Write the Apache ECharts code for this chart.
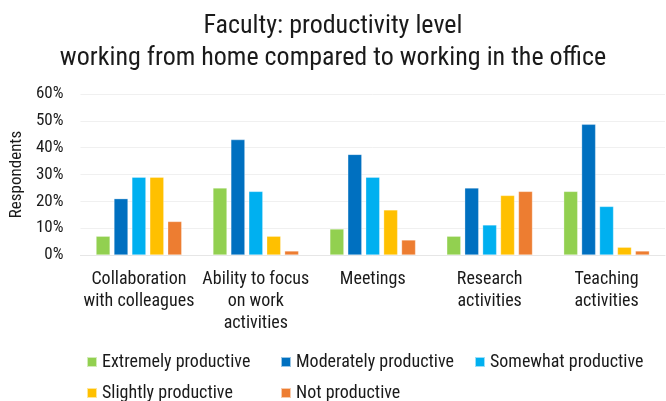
<!DOCTYPE html>
<html>
<head>
<meta charset="utf-8">
<script src="https://cdn.jsdelivr.net/npm/echarts@6/dist/echarts.min.js"></script>
<style>
  html, body { margin: 0; padding: 0; background: #fff; }
  #chart { width: 666px; height: 401px; }
</style>
</head>
<body>
<div id="chart"></div>
<script>
// categories along the x axis
var categories = [
  'Collaboration\nwith colleagues',
  'Ability to focus\non work\nactivities',
  'Meetings',
  'Research\nactivities',
  'Teaching\nactivities'
]

// share of respondents (%) per level
var extremely = [7, 25, 9.7, 7, 23.7]
var moderately = [21, 43, 37.5, 25, 48.7]
var somewhat = [29, 23.7, 29, 11.2, 18.1]
var slightly = [29, 7, 16.8, 22.2, 2.9]
var notProductive = [12.5, 1.5, 5.6, 23.7, 1.5]

var seriesNames = ['Extremely productive', 'Moderately productive', 'Somewhat productive', 'Slightly productive', 'Not productive']
var colors = ['#92D050', '#0070C0', '#00B0F0', '#FFC000', '#ED7D31']

var font = "'Roboto Condensed', 'Roboto', sans-serif"
var textColor = '#1a1a1a'

var chart = echarts.init(document.getElementById('chart'))

function bar(name, data, color) {
  return {
    name: name,
    type: 'bar',
    data: data,
    barWidth: 14,
    barGap: '28%',
    itemStyle: {
      color: color,
      borderColor: 'rgba(255,255,255,0.6)',
      borderWidth: 0.5
    }
  }
}

// legend laid out as a 3-column grid, one legend box per entry
var legendCols = [86, 280, 474]
var legendRows = [353, 384]
var legends = seriesNames.map(function(name, i) {
  return {
    data: [name],
    left: legendCols[i % 3],
    top: legendRows[Math.floor(i / 3)],
    padding: 0,
    itemWidth: 10,
    itemHeight: 10,
    icon: 'rect',
    textStyle: {
      fontFamily: font,
      fontSize: 18,
      color: textColor
    }
  }
})

chart.setOption({
  animation: false,
  title: {
    text: 'Faculty: productivity level\nworking from home compared to working in the office',
    left: 'center',
    top: 5,
    textStyle: {
      fontFamily: font,
      fontSize: 26,
      fontWeight: 'normal',
      color: textColor,
      lineHeight: 32
    }
  },
  grid: {
    left: 80,
    right: 1,
    top: 94,
    bottom: 146
  },
  legend: legends,
  xAxis: {
    type: 'category',
    data: categories,
    axisTick: { show: false },
    axisLine: { lineStyle: { color: '#e6e6e6' } },
    axisLabel: {
      interval: 0,
      fontFamily: font,
      fontSize: 18,
      lineHeight: 22,
      color: textColor,
      margin: 13
    }
  },
  yAxis: {
    type: 'value',
    min: 0,
    max: 60,
    interval: 10,
    name: 'Respondents',
    nameLocation: 'middle',
    nameGap: 44,
    nameTextStyle: {
      fontFamily: font,
      fontSize: 17,
      color: textColor
    },
    axisLabel: {
      formatter: '{value}%',
      fontFamily: font,
      fontSize: 17,
      color: textColor,
      margin: 17
    },
    splitLine: { lineStyle: { color: '#f0f0f0' } }
  },
  series: [
    bar(seriesNames[0], extremely, colors[0]),
    bar(seriesNames[1], moderately, colors[1]),
    bar(seriesNames[2], somewhat, colors[2]),
    bar(seriesNames[3], slightly, colors[3]),
    bar(seriesNames[4], notProductive, colors[4])
  ]
})
</script>
</body>
</html>
